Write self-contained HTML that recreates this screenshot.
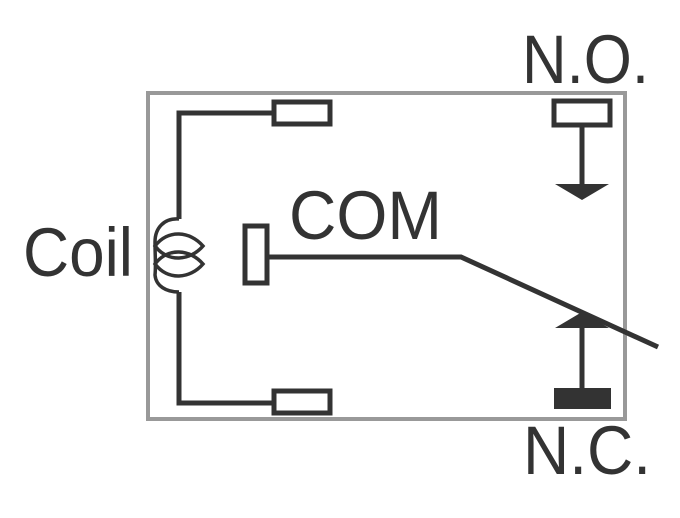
<!DOCTYPE html>
<html><head><style>html,body{margin:0;padding:0;background:#fff;}svg{display:block}</style></head>
<body>
<svg width="680" height="518" viewBox="0 0 680 518" xmlns="http://www.w3.org/2000/svg">
<rect x="148" y="93" width="477" height="326" fill="none" stroke="#999" stroke-width="4"/>
<g fill="none" stroke="#333" stroke-width="5">
<polyline points="274,113 179,113 179,219"/>
<polyline points="274,403 179,403 179,292"/>
<rect x="274" y="102" width="56" height="22"/>
<rect x="274" y="391" width="56" height="22"/>
<rect x="245" y="226" width="22" height="57"/>
<polyline points="267,257 461,257 658,347"/>
<rect x="554" y="101" width="56" height="24"/>
<line x1="582" y1="125" x2="582" y2="186"/>
<line x1="582" y1="328" x2="582" y2="390"/>
<g stroke-width="3.5">
<path d="M179 219 C164 218 155 228 155 242 C155 256 156 265 155 275 C156 286 166 292 179 292"/>
<path d="M155 246 C168 229 190 231 203 246 C190 261 168 263 155 246 Z"/>
<path d="M155 264 C168 247 190 249 203 264 C190 279 168 281 155 264 Z"/>
</g>
</g>
<polygon points="555,184 609,184 582,200" fill="#333"/>
<polygon points="555,328 609,328 582,312" fill="#333"/>
<rect x="554" y="388" width="57" height="21" fill="#333"/>
<g fill="#333" font-family="Liberation Sans, sans-serif" font-size="69">
<text x="522" y="83" textLength="127" lengthAdjust="spacingAndGlyphs">N.O.</text>
<text x="289" y="239" textLength="153" lengthAdjust="spacingAndGlyphs">COM</text>
<text x="23" y="276" textLength="110" lengthAdjust="spacingAndGlyphs">Coil</text>
<text x="523" y="474" textLength="128" lengthAdjust="spacingAndGlyphs">N.C.</text>
</g>
</svg>
</body></html>
